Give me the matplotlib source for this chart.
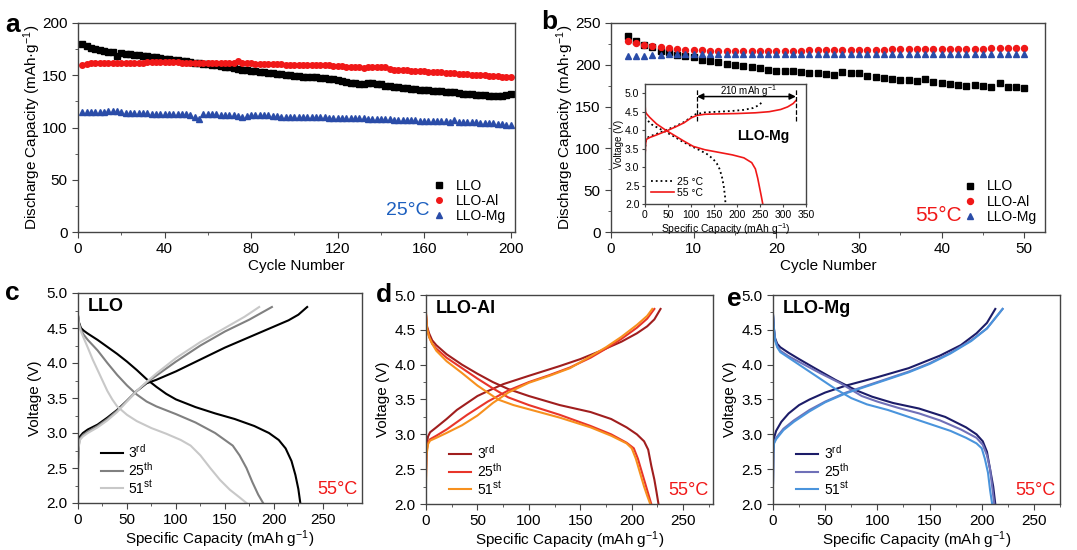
import numpy as np
import matplotlib
matplotlib.use("Agg")
import matplotlib.pyplot as plt
from matplotlib.ticker import MultipleLocator

plt.rcParams['font.family'] = ['Liberation Sans', 'DejaVu Sans']
plt.rcParams['mathtext.default'] = 'regular'

W, H = 1077, 550

# ---- panel a: cycling at 25 C (every 2nd cycle, 2..200)
cyc_a = np.arange(2, 201, 2)
a_llo = [180, 178, 176, 175, 174, 173, 172.5, 172, 168, 171,
         170.5, 170, 169.5, 169, 168.5, 168, 167.5, 167, 166.5, 166,
         165.5, 165, 164.5, 164, 163.5, 163, 162, 161.5, 161, 160.5,
         160, 159.5, 159, 158, 157.5, 157, 156, 155.5, 155, 154.5,
         154, 153.5, 153, 152.5, 152, 151.5, 151, 150.5, 150, 149.5,
         149, 148.5, 148.5, 148, 148, 147.5, 147, 146, 146, 145.5,
         144.5, 143.5, 143, 142.5, 142, 142, 142.5, 142.5, 142, 141.5,
         140, 139.5, 139, 138.5, 138, 137.5, 137, 136.5, 136, 136,
         135.5, 135, 135, 134.5, 134, 134, 133.5, 133, 132.5, 132.5,
         132, 131.5, 131, 131, 130.5, 130.5, 130.5, 130.5, 131, 132]
a_al = [160, 161, 161.5, 161.5, 161.5, 161.5, 162, 162, 162, 162,
        162, 162, 162, 162, 162, 162.5, 162.5, 162.5, 162.5, 162.5,
        162.5, 162.5, 162.5, 162, 162, 162, 162, 162, 162, 162,
        162, 162, 162, 162, 162, 161.5, 163.5, 162, 161.5, 161.5,
        161, 161, 161, 160.5, 160.5, 160.5, 160.5, 160, 160, 160,
        160, 159.5, 159.5, 159.5, 159.5, 159.5, 159.5, 160, 158.5, 158.5,
        158.5, 158, 158, 157.5, 157.5, 157, 157.5, 158, 158, 158,
        157.5, 156, 155.5, 155.5, 155, 155, 154.5, 154.5, 154, 154,
        153.5, 153.5, 153, 153, 152.5, 152.5, 152, 151.5, 151.5, 151,
        150.5, 150.5, 150, 150, 149.5, 149, 149, 148.5, 148, 148]
a_mg = [115, 114.5, 114.5, 114.5, 114.5, 115, 115.5, 115.5, 115.5, 115,
        114, 113.5, 113.5, 113.5, 113.5, 113.5, 113, 113, 113, 113,
        113, 113, 113, 113, 112.5, 112, 110, 108.5, 112.5, 112.5,
        112.5, 112.5, 112, 112, 112, 111.5, 111, 110.5, 111, 111.5,
        111.5, 111.5, 111.5, 111.5, 111, 111, 110.5, 110.5, 110.5, 110.5,
        110.5, 110.5, 110.5, 110.5, 110.5, 110, 110, 109.5, 109.5, 109.5,
        109.5, 109.5, 109, 109, 109, 109, 108.5, 108.5, 108, 108,
        108, 108, 107.5, 107.5, 107.5, 107, 107, 107, 106.5, 106.5,
        106.5, 106, 106, 106, 106, 105.5, 107.5, 105.5, 105.5, 105,
        105, 105.5, 104.5, 104.5, 104, 104, 103.5, 103, 102.5, 102.5]

# ---- panel b: cycling at 55 C (cycles 2..50)
cyc_b = np.arange(2, 51)
b_llo = [234, 228, 224, 221, 217, 215, 212, 210, 209,
         206, 205, 203, 201, 200, 198, 197, 196, 194, 193,
         192, 192, 191, 190, 190, 189, 188, 191, 190, 190,
         187, 185, 184, 183, 182, 182, 181, 183, 180, 178,
         177, 176, 175, 176, 175, 174, 178, 173, 173, 172]
b_al = [228, 226, 224, 222, 221, 220, 219, 218, 218,
        217.5, 217, 217, 217, 217, 217, 217, 217, 217, 217,
        217, 217, 217, 217.5, 217.5, 217.5, 217.5, 218, 218, 218,
        218, 218, 218, 218.5, 218.5, 218.5, 218.5, 218.5, 219, 219,
        219, 219, 219, 219, 219, 219.5, 219.5, 219.5, 219.5, 219.5]
b_mg = [211, 211, 211, 212, 212, 213, 212.5, 212.5, 212.5,
        212.5, 213, 213, 213, 213, 213, 213, 213, 213, 213,
        213, 213, 213, 213, 213, 213, 213, 213, 213, 213,
        213, 213, 213, 213, 213, 213, 213, 213, 213, 213,
        212.5, 212.5, 212.5, 212.5, 212.5, 212.5, 212.5, 212.5, 212.5, 212.5]

# ---- inset of b: LLO-Mg first cycle at 25 C / 55 C  (capacity, voltage)
ins_25_chg = ([0, 1, 3, 10, 25, 45, 65, 85, 100, 110, 130, 160, 190, 215, 235, 248, 256],
              [3.3, 3.6, 3.78, 3.83, 3.9, 4.0, 4.1, 4.22, 4.35, 4.43, 4.48, 4.5, 4.52, 4.55, 4.6, 4.68, 4.78])
ins_25_dis = ([0, 5, 15, 30, 45, 60, 80, 100, 120, 135, 148, 156, 162, 167, 171, 174, 175],
              [4.35, 4.27, 4.15, 4.05, 3.95, 3.85, 3.7, 3.57, 3.45, 3.35, 3.22, 3.1, 2.95, 2.75, 2.5, 2.2, 2.0])
ins_55_chg = ([0, 1, 3, 10, 25, 45, 65, 85, 100, 113, 130, 160, 200, 240, 270, 295, 310, 322, 328],
              [3.2, 3.6, 3.75, 3.8, 3.87, 3.97, 4.08, 4.2, 4.33, 4.4, 4.43, 4.44, 4.45, 4.47, 4.5, 4.56, 4.63, 4.72, 4.8])
ins_55_dis = ([0, 1, 3, 10, 25, 45, 65, 85, 105, 130, 160, 190, 215, 232, 240, 245, 249, 253, 256],
              [4.72, 4.5, 4.45, 4.35, 4.17, 4.0, 3.85, 3.7, 3.56, 3.47, 3.4, 3.33, 3.25, 3.12, 2.95, 2.7, 2.45, 2.2, 2.0])
cap_gap = [113, 328]

# ---- panels c-e: charge/discharge curves at 55 C
cycle_labels = ['3$^{rd}$', '25$^{th}$', '51$^{st}$']

llo_chg = [
    ([0, 0.5, 2, 5, 10, 20, 30, 40, 50, 60, 70, 80, 100, 125, 150, 175, 200, 215, 225, 234],
     [2.55, 2.85, 2.95, 3.0, 3.05, 3.12, 3.22, 3.33, 3.46, 3.6, 3.71, 3.76, 3.88, 4.05, 4.22, 4.37, 4.52, 4.61, 4.69, 4.8]),
    ([0, 0.5, 2, 5, 10, 20, 30, 40, 50, 60, 70, 80, 100, 125, 150, 175, 198],
     [2.5, 2.8, 2.92, 2.97, 3.02, 3.1, 3.2, 3.32, 3.46, 3.6, 3.72, 3.82, 4.02, 4.25, 4.45, 4.62, 4.8]),
    ([0, 0.5, 2, 5, 10, 20, 30, 40, 50, 60, 70, 80, 100, 125, 150, 170, 185],
     [2.5, 2.78, 2.9, 2.95, 3.0, 3.08, 3.18, 3.3, 3.45, 3.6, 3.73, 3.85, 4.07, 4.3, 4.5, 4.66, 4.8]),
]
llo_dis = [
    ([0, 1, 3, 6, 10, 20, 30, 40, 50, 60, 70, 80, 90, 100, 120, 140, 160, 180, 195, 205, 212, 218, 222, 225, 227],
     [4.68, 4.58, 4.5, 4.46, 4.42, 4.33, 4.23, 4.13, 4.02, 3.9, 3.77, 3.66, 3.56, 3.48, 3.37, 3.28, 3.2, 3.1, 3.0, 2.9, 2.78, 2.6, 2.4, 2.2, 2.0]),
    ([0, 1, 3, 6, 10, 20, 30, 40, 50, 60, 70, 80, 100, 120, 140, 150, 158, 165, 172, 178, 184, 189],
     [4.68, 4.57, 4.47, 4.4, 4.33, 4.18, 4.0, 3.83, 3.68, 3.55, 3.45, 3.38, 3.27, 3.15, 3.0, 2.9, 2.82, 2.68, 2.5, 2.3, 2.12, 2.0]),
    ([0, 1, 3, 6, 10, 15, 20, 25, 30, 35, 40, 50, 60, 75, 90, 105, 115, 125, 135, 145, 155, 165, 172],
     [4.68, 4.55, 4.45, 4.35, 4.22, 4.05, 3.9, 3.75, 3.6, 3.48, 3.38, 3.26, 3.17, 3.07, 2.99, 2.9, 2.82, 2.68, 2.5, 2.33, 2.19, 2.08, 2.0]),
]

al_chg = [
    ([0, 0.5, 2, 4, 10, 20, 30, 40, 50, 60, 75, 100, 130, 150, 170, 190, 205, 215, 222, 228],
     [2.5, 2.85, 2.97, 3.03, 3.1, 3.22, 3.35, 3.45, 3.55, 3.62, 3.72, 3.84, 3.98, 4.08, 4.2, 4.33, 4.45, 4.55, 4.65, 4.8]),
    ([0, 0.5, 2, 4, 10, 20, 40, 60, 80, 100, 120, 140, 160, 175, 190, 205, 215, 222],
     [2.4, 2.75, 2.88, 2.93, 2.98, 3.07, 3.28, 3.47, 3.63, 3.75, 3.85, 3.96, 4.1, 4.23, 4.37, 4.53, 4.66, 4.8]),
    ([0, 0.5, 2, 4, 10, 20, 35, 50, 65, 80, 100, 120, 140, 160, 175, 190, 205, 215, 220],
     [2.3, 2.7, 2.86, 2.91, 2.95, 3.02, 3.13, 3.27, 3.45, 3.6, 3.74, 3.84, 3.95, 4.12, 4.25, 4.4, 4.57, 4.7, 4.8]),
]
al_dis = [
    ([0, 1, 3, 6, 10, 20, 35, 50, 65, 80, 100, 130, 160, 180, 195, 205, 212, 216, 219, 222, 224, 226],
     [4.72, 4.55, 4.45, 4.35, 4.28, 4.15, 4.0, 3.87, 3.75, 3.65, 3.55, 3.42, 3.32, 3.22, 3.1, 3.0, 2.9, 2.78, 2.55, 2.35, 2.18, 2.0]),
    ([0, 1, 3, 6, 10, 20, 35, 50, 65, 80, 100, 130, 160, 180, 195, 202, 206, 210, 214, 217, 219],
     [4.72, 4.52, 4.4, 4.3, 4.23, 4.1, 3.95, 3.8, 3.66, 3.53, 3.42, 3.28, 3.12, 3.0, 2.88, 2.8, 2.65, 2.45, 2.25, 2.1, 2.0]),
    ([0, 1, 3, 6, 10, 20, 35, 50, 60, 70, 85, 100, 130, 160, 180, 195, 200, 204, 208, 212, 215, 218],
     [4.75, 4.52, 4.4, 4.3, 4.2, 4.05, 3.88, 3.7, 3.6, 3.5, 3.42, 3.36, 3.24, 3.1, 2.98, 2.87, 2.8, 2.65, 2.45, 2.25, 2.12, 2.0]),
]

mg_chg = [
    ([0, 0.3, 1, 3, 8, 15, 25, 35, 50, 70, 100, 130, 160, 180, 195, 205, 213],
     [2.3, 2.8, 2.95, 3.05, 3.18, 3.3, 3.42, 3.5, 3.6, 3.7, 3.82, 3.95, 4.13, 4.28, 4.45, 4.6, 4.8]),
    ([0, 0.3, 1, 3, 10, 20, 35, 50, 70, 90, 110, 130, 150, 170, 190, 205, 220],
     [2.3, 2.75, 2.88, 2.95, 3.08, 3.2, 3.35, 3.47, 3.6, 3.7, 3.8, 3.9, 4.02, 4.17, 4.35, 4.52, 4.8]),
    ([0, 0.3, 1, 3, 10, 20, 35, 50, 70, 90, 110, 130, 150, 170, 190, 205, 220],
     [2.3, 2.73, 2.87, 2.93, 3.06, 3.18, 3.33, 3.46, 3.59, 3.69, 3.79, 3.89, 4.01, 4.16, 4.34, 4.52, 4.8]),
]
mg_dis = [
    ([0, 1, 2, 4, 7, 15, 25, 40, 60, 80, 95, 115, 140, 165, 185, 195, 201, 205, 208, 211, 213],
     [4.72, 4.5, 4.38, 4.3, 4.25, 4.17, 4.08, 3.95, 3.78, 3.63, 3.54, 3.45, 3.37, 3.25, 3.1, 3.0, 2.9, 2.75, 2.5, 2.25, 2.0]),
    ([0, 1, 2, 4, 7, 15, 30, 45, 65, 85, 100, 120, 140, 160, 180, 195, 201, 205, 208, 210, 212],
     [4.72, 4.5, 4.36, 4.27, 4.2, 4.12, 4.0, 3.88, 3.73, 3.55, 3.47, 3.38, 3.3, 3.2, 3.07, 2.95, 2.85, 2.7, 2.5, 2.25, 2.0]),
    ([0, 1, 2, 4, 7, 15, 30, 45, 60, 75, 90, 110, 130, 150, 170, 185, 195, 200, 203, 206, 208, 210],
     [4.72, 4.5, 4.35, 4.25, 4.18, 4.1, 3.95, 3.8, 3.65, 3.52, 3.43, 3.35, 3.25, 3.15, 3.05, 2.95, 2.87, 2.8, 2.65, 2.45, 2.2, 2.0]),
]

COL_LLO, COL_AL, COL_MG = '#000000', '#f01818', '#2a4ca8'
RED_TXT, BLUE_TXT = '#f01818', '#1c5fbf'
SPINE = '#444444'


def px_axes(fig, l, t, r, b):
    return fig.add_axes([l / W, 1 - b / H, (r - l) / W, (b - t) / H])


def style(ax, fs=11):
    for s in ax.spines.values():
        s.set_color(SPINE)
        s.set_linewidth(1.0)
    ax.tick_params(which='both', direction='out', top=False, right=False,
                   color=SPINE, labelsize=fs)
    ax.tick_params(which='major', length=4)
    ax.tick_params(which='minor', length=2)


fig = plt.figure(figsize=(W / 100, H / 100), dpi=100)

# ---------------- a
ax = px_axes(fig, 78, 23, 515, 232)
ax.plot(cyc_a, a_llo, 's', color=COL_LLO, ms=3.8, label='LLO')
ax.plot(cyc_a, a_al, 'o', color=COL_AL, ms=4, label='LLO-Al')
ax.plot(cyc_a, a_mg, '^', color=COL_MG, ms=4, label='LLO-Mg')
ax.set_xlim(0, 202)
ax.set_ylim(0, 200)
ax.xaxis.set_major_locator(MultipleLocator(40))
ax.xaxis.set_minor_locator(MultipleLocator(20))
ax.yaxis.set_major_locator(MultipleLocator(50))
ax.yaxis.set_minor_locator(MultipleLocator(25))
ax.set_xlabel('Cycle Number', fontsize=11, labelpad=2)
ax.set_ylabel('Discharge Capacity (mAh·g$^{-1}$)', fontsize=11, labelpad=-1)
style(ax)
ax.legend(loc='lower right', frameon=False, fontsize=10, handletextpad=0.6,
          labelspacing=0.08, borderaxespad=0.25, handlelength=1.2)
ax.text(0.755, 0.105, '25°C', transform=ax.transAxes, color=BLUE_TXT,
        fontsize=14, ha='center', va='center')

# ---------------- b
ax = px_axes(fig, 611, 23, 1045, 232)
ax.plot(cyc_b, b_llo, 's', color=COL_LLO, ms=3.8, label='LLO')
ax.plot(cyc_b, b_al, 'o', color=COL_AL, ms=4.3, label='LLO-Al')
ax.plot(cyc_b, b_mg, '^', color=COL_MG, ms=4.3, label='LLO-Mg')
ax.set_xlim(0, 52.5)
ax.set_ylim(0, 250)
ax.xaxis.set_major_locator(MultipleLocator(10))
ax.xaxis.set_minor_locator(MultipleLocator(5))
ax.yaxis.set_major_locator(MultipleLocator(50))
ax.yaxis.set_minor_locator(MultipleLocator(25))
ax.set_xlabel('Cycle Number', fontsize=11, labelpad=2)
ax.set_ylabel('Discharge Capacity (mAh·g$^{-1}$)', fontsize=11, labelpad=-1)
style(ax)
ax.legend(loc='lower right', frameon=False, fontsize=10, handletextpad=0.6,
          labelspacing=0.08, borderaxespad=0.2, handlelength=1.2)
ax.text(0.755, 0.08, '55°C', transform=ax.transAxes, color=RED_TXT,
        fontsize=15, ha='center', va='center')

# inset
ins = px_axes(fig, 645, 84, 806, 204)
ins.plot(*ins_25_chg, ':', color='black', lw=1.3, label='25 °C')
ins.plot(*ins_25_dis, ':', color='black', lw=1.3)
ins.plot(*ins_55_chg, '-', color='#f01818', lw=1.2, label='55 °C')
ins.plot(*ins_55_dis, '-', color='#f01818', lw=1.2)
for xc in cap_gap:
    ins.plot([xc, xc], [4.24, 5.12], '--', color='black', lw=0.9)
ins.annotate('', xy=(cap_gap[1], 4.91), xytext=(cap_gap[0], 4.91),
             arrowprops=dict(arrowstyle='<|-|>', color='black', lw=1.1,
                             mutation_scale=9, shrinkA=0, shrinkB=0))
ins.text(sum(cap_gap) / 2 + 5, 5.06, '%d mAh g$^{-1}$' % 210, fontsize=7,
         ha='center', va='center')
ins.text(258, 3.84, 'LLO-Mg', fontsize=10, fontweight='bold',
         ha='center', va='center')
ins.set_xlim(0, 350)
ins.set_ylim(2.0, 5.25)
ins.xaxis.set_major_locator(MultipleLocator(50))
ins.yaxis.set_major_locator(MultipleLocator(0.5))
ins.set_xlabel('Specific Capacity (mAh g$^{-1}$)', fontsize=7.5, labelpad=1)
ins.set_ylabel('Voltage (V)', fontsize=7, labelpad=1)
style(ins, fs=7.5)
ins.tick_params(which='major', length=2.5, pad=1.5)
ins.legend(loc='lower left', frameon=False, fontsize=7.5, handlelength=2.2,
           handletextpad=0.3, labelspacing=0.1, borderaxespad=0.2)

# ---------------- c, d, e
panels = [
    ((78, 293, 362, 503), llo_chg, llo_dis, ['#000000', '#808080', '#c8c8c8'], 'LLO', 290),
    ((426, 295, 713, 504), al_chg, al_dis, ['#a01e1e', '#e8352a', '#f7901e'], 'LLO-Al', 279),
    ((773, 295, 1060, 504), mg_chg, mg_dis, ['#1c1c68', '#6f70b8', '#4a94dc'], 'LLO-Mg', 275),
]
for (box, chg, dis, cols, name, xmax) in panels:
    ax = px_axes(fig, *box)
    for (cx, cv), (dx, dv), col, lab in zip(chg, dis, cols, cycle_labels):
        ax.plot(cx, cv, '-', color=col, lw=1.5, label=lab)
        ax.plot(dx, dv, '-', color=col, lw=1.5)
    ax.set_xlim(0, xmax)
    ax.set_ylim(2.0, 5.0)
    ax.xaxis.set_major_locator(MultipleLocator(50))
    ax.xaxis.set_minor_locator(MultipleLocator(25))
    ax.yaxis.set_major_locator(MultipleLocator(0.5))
    ax.yaxis.set_minor_locator(MultipleLocator(0.25))
    ax.yaxis.set_major_formatter(matplotlib.ticker.FormatStrFormatter('%.1f'))
    ax.set_xlabel('Specific Capacity (mAh g$^{-1}$)', fontsize=11, labelpad=1)
    ax.set_ylabel('Voltage (V)', fontsize=11, labelpad=3)
    style(ax)
    ax.legend(loc='lower left', frameon=False, fontsize=10, handlelength=1.6,
              handletextpad=0.4, labelspacing=0.0, borderaxespad=0.1,
              bbox_to_anchor=(0.055, 0.0))
    ax.text(0.035, 0.935, name, transform=ax.transAxes, fontsize=13,
            fontweight='bold', ha='left', va='center')
    ax.text(0.985, 0.065, '55°C', transform=ax.transAxes, color=RED_TXT,
            fontsize=13, ha='right', va='center')

# panel letters
for letter, x, y in [('a', 13, 25), ('b', 549, 22), ('c', 12, 293),
                     ('d', 384, 295), ('e', 734, 299)]:
    fig.text(x / W, 1 - y / H, letter, fontsize=19, fontweight='bold',
             ha='center', va='center')

fig.savefig('out.png', dpi=100)
